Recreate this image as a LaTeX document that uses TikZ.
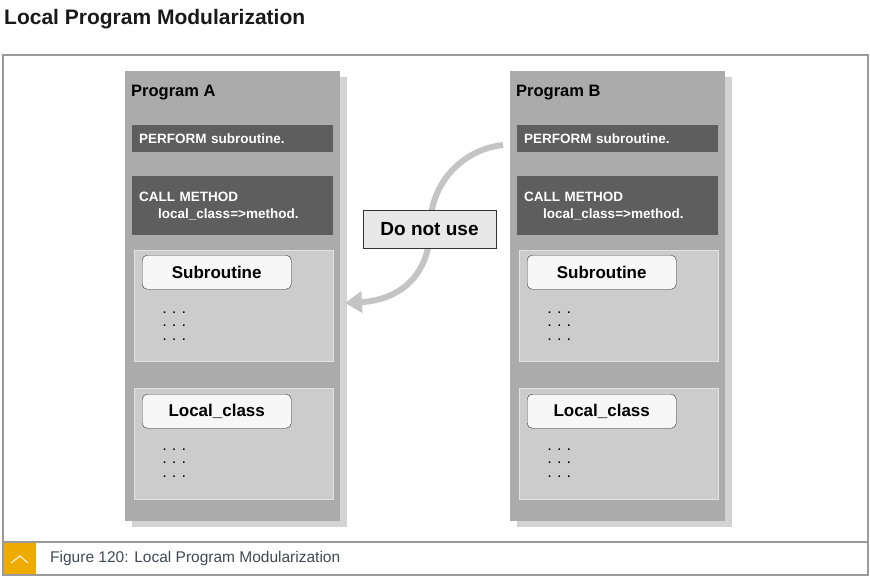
\documentclass[tikz,border=0pt]{standalone}
\usepackage{fontspec}
\setmainfont{Liberation Sans}
\usetikzlibrary{arrows.meta,positioning}
\definecolor{panelgray}{HTML}{ABABAB}
\definecolor{shadowgray}{HTML}{D3D3D3}
\definecolor{codegray}{HTML}{5E5E5E}
\definecolor{areagray}{HTML}{CCCCCC}
\definecolor{framegray}{HTML}{9A9A9A}
\definecolor{sapgold}{HTML}{F0AB00}
\definecolor{captionblue}{HTML}{3F4A56}
\definecolor{arrowgray}{HTML}{C4C4C4}
\newcommand{\dotline}{.\hspace{6.5pt}.\hspace{6.5pt}.}

\begin{document}
\begin{tikzpicture}[x=1pt, y=-1pt,
    panelbox/.style={fill=panelgray, minimum width=215pt, minimum height=450pt, anchor=north west, inner sep=0pt},
    shadowbox/.style={fill=shadowgray, minimum width=215pt, minimum height=450pt, anchor=north west, inner sep=0pt},
    codebox/.style={fill=codegray, text=white, font=\fontsize{13.5}{17}\selectfont\bfseries, align=left, anchor=north west, minimum width=201pt, text width=187pt, inner xsep=7pt, inner ysep=0pt},
    areabox/.style={fill=areagray, draw=areagray!55!white, line width=0.8pt, minimum width=199pt, minimum height=111pt, anchor=north west, inner sep=0pt},
    namebox/.style={draw=black!80, fill=white!97!black, rounded corners=5pt, minimum width=149pt, minimum height=34pt, anchor=north west, font=\fontsize{17}{20}\selectfont\bfseries, inner sep=0pt},
    dotrows/.style={anchor=south west, align=left, font=\fontsize{11}{13.5}\selectfont\bfseries, inner sep=0pt}
]
    \useasboundingbox (0,0) rectangle (870,578);
    % Heading and frame
    \node[anchor=base west, inner sep=0pt, font=\fontsize{21}{25}\selectfont\bfseries, text=black!90] (heading) at (4,25) {Local Program Modularization};
    \draw[framegray, line width=1.5pt] (3,55) rectangle (868,575);
    \draw[framegray, line width=1.5pt] (3,542) -- (868,542);
    \fill[sapgold] (3.75,542.75) rectangle (36,574.25);
    \draw[white!85!sapgold, line width=1.2pt] (11,563) -- (20,556) -- (28,563);
    \node[anchor=base west, inner sep=0pt, font=\fontsize{15.5}{18}\selectfont, text=captionblue] (caption) at (50,562) {Figure 120: Local Program Modularization};
    % Programs
    \foreach \p/\dx in {A/0,B/385} {
        \node[shadowbox] (shadow\p) at ({132+\dx},77) {};
        \node[panelbox] (prog\p) at ({125+\dx},71) {};
        \node[anchor=base west, inner sep=0pt, font=\fontsize{16.5}{20}\selectfont\bfseries] (name\p) at ({131+\dx},96) {Program \p};
        \node[codebox, minimum height=27pt] (perf\p) at ({132+\dx},125) {PERFORM subroutine.};
        \node[codebox, minimum height=59pt] (call\p) at ({132+\dx},176) {CALL METHOD\\\hspace*{19pt}local\_class=>method.};
        \node[areabox] (subArea\p) at ({134+\dx},250) {};
        \node[namebox] (sub\p) at ({142+\dx},255) {Subroutine};
        \node[dotrows] (subDots\p) at ({163+\dx},340.5) {\dotline\\\dotline\\\dotline};
        \node[areabox] (clsArea\p) at ({134+\dx},388) {};
        \node[namebox] (cls\p) at ({142+\dx},394) {Local\_class};
        \node[dotrows] (clsDots\p) at ({163+\dx},477.5) {\dotline\\\dotline\\\dotline};
    }
    % Arrow
    \coordinate (tail) at (503,145);
    \coordinate (bend) at (430,228);
    \coordinate (head) at (345,303);
    \draw[arrowgray, line width=6pt, -{Triangle[width=21pt,length=17pt]}] (tail) .. controls (460,150) and (430,185) .. (bend) .. controls (430,275) and (400,300) .. (head);
    \node[draw=black!80, fill=black!9, line width=0.9pt, minimum width=133pt, minimum height=38pt, inner sep=0pt, font=\fontsize{19}{22}\selectfont\bfseries] (warn) at (429.5,229) {Do not use};
\end{tikzpicture}
\end{document}
